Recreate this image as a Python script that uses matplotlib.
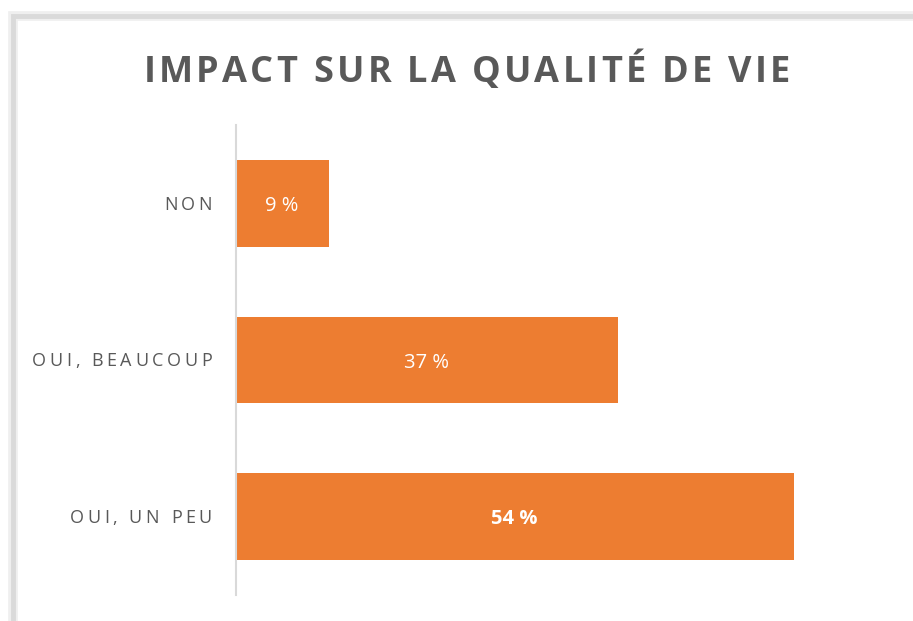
import matplotlib
matplotlib.use("Agg")
import matplotlib.pyplot as plt
from matplotlib.font_manager import FontProperties
from matplotlib.patches import Rectangle

categories = ["OUI, UN PEU", "OUI, BEAUCOUP", "NON"]
values = [54, 37, 9]
value_labels = ["54 %", "37 %", "9 %"]
value_bold = [True, False, False]
title = "IMPACT SUR LA QUALITÉ DE VIE"

W, H = 913, 621
fig = plt.figure(figsize=(W / 100, H / 100), dpi=100)
fig.patch.set_facecolor("white")

# frame / shadow
for lw, col in [(7, "#EFEFEF"), (3.5, "#DADADA")]:
    fig.patches.append(Rectangle((12.5 / W, -0.1), 1.2, (621 - 16) / H + 0.1,
                                 transform=fig.transFigure, fill=False,
                                 edgecolor=col, linewidth=lw, zorder=0))

ax_left, ax_right, ax_top, ax_bottom = 235.5, 856, 125, 595
ax = fig.add_axes([ax_left / W, (H - ax_bottom) / H, (ax_right - ax_left) / W,
                   (ax_bottom - ax_top) / H])
ax.set_facecolor("none")
y = list(range(len(categories)))
ax.barh(y, values, height=0.555, color="#ED7D31")
ax.set_xlim(0, 60)
ax.set_ylim(-0.5, 2.5)
for s in ["top", "right", "bottom"]:
    ax.spines[s].set_visible(False)
ax.spines["left"].set_color("#D9D9D9")
ax.spines["left"].set_linewidth(1.5)
ax.set_xticks([])
ax.set_yticks([])

fig.canvas.draw()
renderer = fig.canvas.get_renderer()


def char_widths(s, fp):
    ws = []
    base = renderer.get_text_width_height_descent("II", fp, ismath=False)[0]
    for ch in s:
        w = renderer.get_text_width_height_descent("I" + ch + "I", fp, ismath=False)[0] - base
        ws.append(w)
    return ws


def spaced(s, x_px, base_px, fp, color, spacing=None, ha="left", width=None):
    ws = char_widths(s, fp)
    if width is not None:
        spacing = (width - sum(ws)) / (len(s) - 1)
    total = sum(ws) + spacing * (len(s) - 1)
    if ha == "right":
        x0 = x_px - total
    elif ha == "center":
        x0 = x_px - total / 2
    else:
        x0 = x_px
    x = x0
    for ch, w in zip(s, ws):
        fig.text(x / W, (H - base_px) / H, ch, fontproperties=fp, color=color,
                 ha="left", va="baseline")
        x += w + spacing


title_fp = FontProperties(family="Open Sans", weight="bold", size=26)
spaced(title, 467, 82, title_fp, "#595959", width=647, ha="center")

lab_size = 13
label_fp = FontProperties(family="Open Sans", size=lab_size)
for yi, cat in zip(y, categories):
    yc = ax.transData.transform((0, yi))[1]
    base = H - yc + 0.714 * lab_size * 100 / 72 / 2
    spaced(cat, 212, base, label_fp, "#595959", spacing=3.6, ha="right")

for yi, v, lab, b in zip(y, values, value_labels, value_bold):
    ax.text(v / 2, yi, lab, ha="center", va="center_baseline", color="white",
            fontsize=14.5, family="Open Sans", fontweight="bold" if b else "normal")

fig.savefig("out.png", dpi=100, facecolor="white")
